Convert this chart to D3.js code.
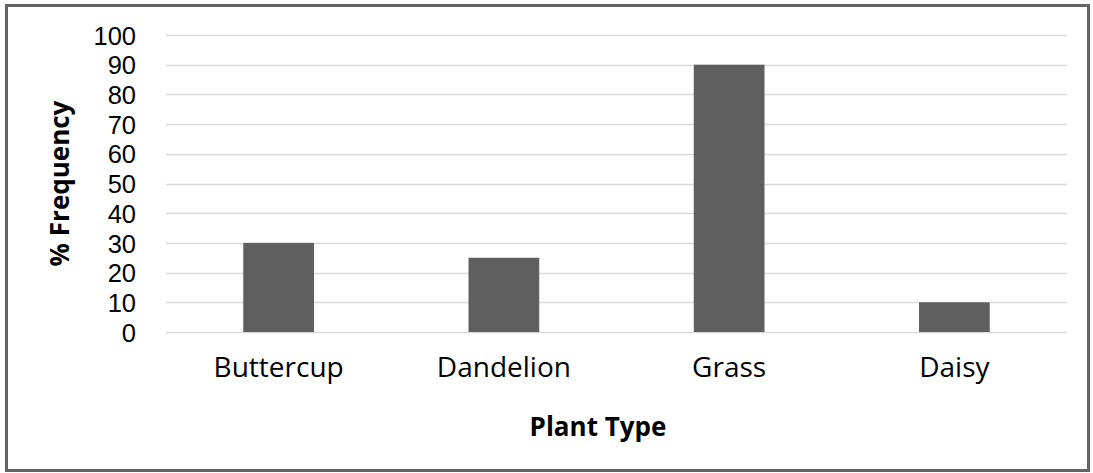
<!DOCTYPE html>
<html>
<head>
<meta charset="utf-8">
<script src="https://cdn.jsdelivr.net/npm/d3@7"></script>
<style>
  html, body { margin: 0; padding: 0; background: #fff; }
  svg { display: block; }
</style>
</head>
<body>
<svg id="chart" width="1093" height="473"></svg>
<script>
const categories = ["Buttercup", "Dandelion", "Grass", "Daisy"];
const frequency = [30, 25, 90, 10];
const yTicks = [0, 10, 20, 30, 40, 50, 60, 70, 80, 90, 100];
const xTitle = "Plant Type";
const yTitle = "% Frequency";

const svg = d3.select("#chart");
const plot = { left: 166, right: 1067, top: 35, bottom: 332 };

svg.append("rect")
  .attr("x", 6.5).attr("y", 5.5)
  .attr("width", 1082).attr("height", 465)
  .attr("fill", "#fff")
  .attr("stroke", "#646464").attr("stroke-width", 3);

const x = d3.scaleBand().domain(categories).range([plot.left, plot.right]).padding(0);
const y = d3.scaleLinear().domain([0, 100]).range([plot.bottom, plot.top]);

// gridlines
svg.append("g")
  .selectAll("line")
  .data(yTicks)
  .join("line")
  .attr("x1", plot.left).attr("x2", plot.right)
  .attr("y1", d => Math.round(y(d)) + 0.5).attr("y2", d => Math.round(y(d)) + 0.5)
  .attr("stroke", "#d9d9d9").attr("stroke-width", 1.5);

// y axis labels
const yAxis = d3.axisLeft(y).tickValues(yTicks).tickSize(0).tickPadding(0);
const gy = svg.append("g").attr("transform", `translate(136,0)`).call(yAxis);
gy.select(".domain").remove();
gy.selectAll("text")
  .attr("font-family", "'Liberation Sans', Arial, sans-serif")
  .attr("font-size", 25.5)
  .attr("fill", "#000")
  .attr("dy", "0.36em");

// bars
const barW = x.bandwidth() * 0.314;
svg.append("g")
  .selectAll("rect")
  .data(categories.map((c, i) => ({ c, v: frequency[i] })))
  .join("rect")
  .attr("x", d => x(d.c) + x.bandwidth() / 2 - barW / 2)
  .attr("y", d => y(d.v))
  .attr("width", barW)
  .attr("height", d => y(0) - y(d.v))
  .attr("fill", "#5f5f5f");

// x axis labels
const xAxis = d3.axisBottom(x).tickSize(0).tickPadding(0);
const gx = svg.append("g").attr("transform", `translate(0,${plot.bottom})`).call(xAxis);
gx.select(".domain").remove();
gx.selectAll("text")
  .attr("font-family", "'Open Sans', sans-serif")
  .attr("font-size", 28)
  .attr("fill", "#000")
  .attr("y", 45).attr("dy", 0);

// titles
svg.append("text")
  .attr("x", 598)
  .attr("y", 436)
  .attr("text-anchor", "middle")
  .attr("font-family", "'Open Sans', sans-serif")
  .attr("font-weight", "bold")
  .attr("font-size", 26)
  .attr("fill", "#000")
  .text(xTitle);

svg.append("text")
  .attr("transform", `translate(69,${(plot.top + plot.bottom) / 2}) rotate(-90)`)
  .attr("text-anchor", "middle")
  .attr("font-family", "'Open Sans', sans-serif")
  .attr("font-weight", "bold")
  .attr("font-size", 26)
  .attr("fill", "#000")
  .text(yTitle);
</script>
</body>
</html>
